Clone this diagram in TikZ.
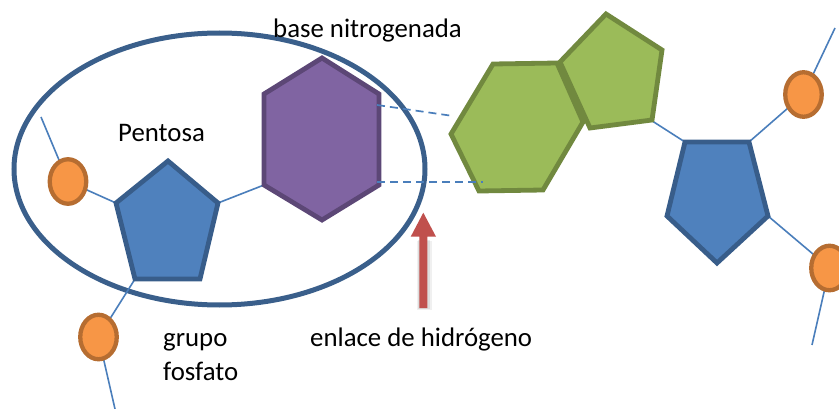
\documentclass[tikz,border=0pt]{standalone}
\usepackage{fontspec}
\setmainfont{Carlito}
\usetikzlibrary{shapes.geometric}
\definecolor{bluefill}{HTML}{4F81BD}
\definecolor{blueline}{HTML}{385D8A}
\definecolor{ringline}{HTML}{3A5F8B}
\definecolor{purplefill}{HTML}{8064A2}
\definecolor{purpleline}{HTML}{5C4776}
\definecolor{greenfill}{HTML}{9BBB59}
\definecolor{greenline}{HTML}{71893F}
\definecolor{orangefill}{HTML}{F79646}
\definecolor{orangeline}{HTML}{B66D31}
\definecolor{linkcol}{HTML}{4A7EBB}
\definecolor{arrowred}{HTML}{C0504D}
\tikzset{
  link/.style={draw=linkcol, line width=1.6pt},
  hbond/.style={draw=linkcol, line width=1.7pt, dash pattern=on 8pt off 5pt},
  sugar/.style={fill=bluefill, draw=blueline, line width=4.8pt, line join=miter},
  purplebase/.style={fill=purplefill, draw=purpleline, line width=4.8pt, line join=miter},
  greenbase/.style={fill=greenfill, draw=greenline, line width=4.8pt, line join=miter},
  phosphate/.style={ellipse, fill=orangefill, draw=orangeline, line width=4.3pt,
    minimum width=36.5pt, minimum height=44.5pt, inner sep=0pt},
  label/.style={font=\fontsize{26.8}{30}\selectfont, inner sep=0pt, anchor=base west},
}
\begin{document}
\begin{tikzpicture}[x=1pt,y=-1pt]
\useasboundingbox (0,0) rectangle (839,409);
% vertices
\coordinate (h1) at (322,58);  \coordinate (h2) at (379,94);  \coordinate (h3) at (379,185);
\coordinate (h4) at (322,220); \coordinate (h5) at (264,185); \coordinate (h6) at (264,94);
\coordinate (p1) at (168,161); \coordinate (p2) at (218,203); \coordinate (p3) at (200,279);
\coordinate (p4) at (135,279); \coordinate (p5) at (116,203);
\coordinate (g1) at (493,64);  \coordinate (g2) at (557,63);  \coordinate (g3) at (583,122);
\coordinate (g4) at (543,190); \coordinate (g5) at (479,191); \coordinate (g6) at (451,134);
\coordinate (q1) at (606,14);  \coordinate (q2) at (662,50);  \coordinate (q3) at (652,120);
\coordinate (q4) at (590,128); \coordinate (q5) at (560,62);
\coordinate (r1) at (685,142); \coordinate (r2) at (749,142); \coordinate (r3) at (768,216);
\coordinate (r4) at (717,263); \coordinate (r5) at (667,216);
% phosphate centres
\coordinate (c1) at (68,181.5);
\coordinate (c2) at (98.5,337);
\coordinate (c3) at (803.5,94.5);
\coordinate (c4) at (829.5,268);
% free ends
\coordinate (e1) at (41,117);
\coordinate (e2) at (115,409);
\coordinate (e3) at (835,28);
\coordinate (e4) at (812,345);
\coordinate (gq) at (646,117);
\coordinate (d1s) at (377,105); \coordinate (d1e) at (453,116);
\coordinate (d2s) at (377,182); \coordinate (d2e) at (483,182);
% ring (nucleotide)
\draw[draw=ringline, line width=5pt] (219.5,169) ellipse [x radius=205.5, y radius=136];
% backbone links
\draw[link] (e1) -- (c1);
\draw[link] (c1) -- (p5);
\draw[link] (p2) -- (h5);
\draw[link] (p4) -- (c2);
\draw[link] (c2) -- (e2);
\draw[link] (gq) -- (r1);
\draw[link] (r2) -- (c3);
\draw[link] (c3) -- (e3);
\draw[link] (r3) -- (c4);
\draw[link] (c4) -- (e4);
% shapes
\draw[purplebase] (h1) -- (h2) -- (h3) -- (h4) -- (h5) -- (h6) -- cycle;
\draw[sugar] (p1) -- (p2) -- (p3) -- (p4) -- (p5) -- cycle;
\draw[greenbase] (q1) -- (q2) -- (q3) -- (q4) -- (q5) -- cycle;
\draw[greenbase] (g1) -- (g2) -- (g3) -- (g4) -- (g5) -- (g6) -- cycle;
\draw[sugar] (r1) -- (r2) -- (r3) -- (r4) -- (r5) -- cycle;
\node[phosphate] (P1) at (c1) {};
\node[phosphate] (P2) at (c2) {};
\node[phosphate] (P3) at (c3) {};
\node[phosphate] (P4) at (c4) {};
% hydrogen bonds
\draw[hbond] (d1s) -- (d1e);
\draw[hbond] (d2s) -- (d2e);
% red arrow with soft shadow
\fill[black, opacity=0.08] (417.5,240) rectangle (430,309);
\fill[black, opacity=0.06] (416.5,241) rectangle (431.5,310);
\fill[arrowred] (419.3,308) -- (419.3,236.7) -- (410.7,236.7) -- (423.3,212.7)
  -- (436,236.7) -- (427.3,236.7) -- (427.3,308) -- cycle;
% labels
\node[label] (tBase) at (273,38) {base nitrogenada};
\node[label] (tPentosa) at (118,142) {Pentosa};
\node[label] (tGrupo) at (163,346) {grupo};
\node[label] (tFosfato) at (163,380) {fosfato};
\node[label] (tEnlace) at (310,346) {enlace de hidrógeno};
\end{tikzpicture}
\end{document}
